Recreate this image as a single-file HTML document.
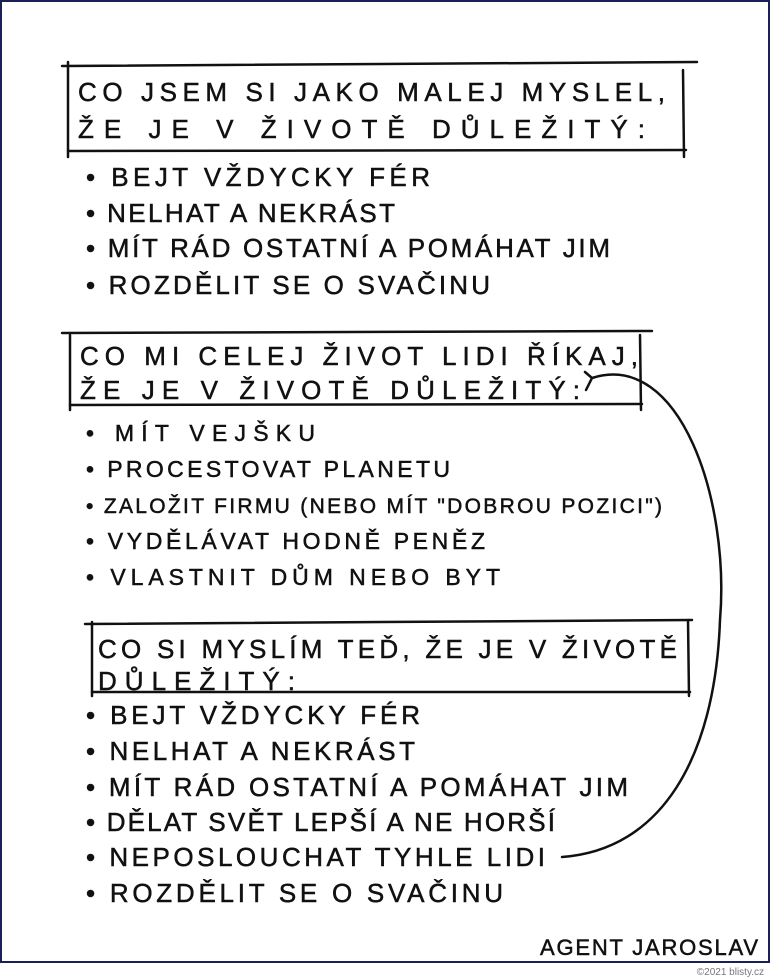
<!DOCTYPE html>
<html><head><meta charset="utf-8"><style>
html,body{margin:0;padding:0;background:#fff;}
svg{display:block}
text{font-family:"Liberation Sans",sans-serif;font-size:26px;fill:#111;stroke:#111;stroke-width:0.5}
</style></head><body>
<svg width="770" height="979" viewBox="0 0 770 979">
<rect x="1" y="1" width="768" height="961" fill="#fff" stroke="#1a1f55" stroke-width="2"/>
<g stroke="#111" stroke-width="2.5" fill="none" stroke-linecap="round">
<path d="M62 66 L697 62"/><path d="M68 62 L68 157"/><path d="M683 70 L684 157"/><path d="M68 151 L686 150"/>
<path d="M62 333 L652 331"/><path d="M70 335 L70 410"/><path d="M640 335 L641 410"/><path d="M70 405 L642 404"/>
<path d="M85 624 L692 620"/><path d="M92 622 L92 696"/><path d="M688 620 L689 696"/><path d="M92 692 L690 692"/>
<path d="M592 378 C680 350 730 500 720 620 C715 760 660 850 562 857"/>
<path d="M585 372 L592 378 L586 390"/>
</g>
<g lengthAdjust="spacing">
<text x="78" y="101" textLength="587">CO JSEM SI JAKO MALEJ MYSLEL,</text>
<text x="78" y="138" textLength="567">ŽE JE V ŽIVOTĚ DŮLEŽITÝ:</text>
<text x="86" y="186" textLength="344">• BEJT VŽDYCKY FÉR</text>
<text x="86" y="222" textLength="309">• NELHAT A NEKRÁST</text>
<text x="86" y="257" textLength="524">• MÍT RÁD OSTATNÍ A POMÁHAT JIM</text>
<text x="86" y="294" textLength="404">• ROZDĚLIT SE O SVAČINU</text>
<text x="80" y="365" textLength="558">CO MI CELEJ ŽIVOT LIDI ŘÍKAJ,</text>
<text x="80" y="399" textLength="500">ŽE JE V ŽIVOTĚ DŮLEŽITÝ:</text>
<text x="86" y="441" textLength="229" style="font-size:23px">• MÍT VEJŠKU</text>
<text x="86" y="477" textLength="364" style="font-size:23px">• PROCESTOVAT PLANETU</text>
<text x="86" y="513" textLength="576" style="font-size:21px">• ZALOŽIT FIRMU (NEBO MÍT "DOBROU POZICI")</text>
<text x="86" y="549" textLength="399" style="font-size:23px">• VYDĚLÁVAT HODNĚ PENĚZ</text>
<text x="86" y="585" textLength="414" style="font-size:23px">• VLASTNIT DŮM NEBO BYT</text>
<text x="98" y="658" textLength="579">CO SI MYSLÍM TEĎ, ŽE JE V ŽIVOTĚ</text>
<text x="98" y="690" textLength="197">DŮLEŽITÝ:</text>
<text x="86" y="724" textLength="334">• BEJT VŽDYCKY FÉR</text>
<text x="86" y="760" textLength="329">• NELHAT A NEKRÁST</text>
<text x="86" y="796" textLength="542">• MÍT RÁD OSTATNÍ A POMÁHAT JIM</text>
<text x="86" y="831" textLength="469">• DĚLAT SVĚT LEPŠÍ A NE HORŠÍ</text>
<text x="86" y="866" textLength="459">• NEPOSLOUCHAT TYHLE LIDI</text>
<text x="86" y="902" textLength="417">• ROZDĚLIT SE O SVAČINU</text>
<text x="540" y="955" textLength="218" style="font-size:22px">AGENT JAROSLAV</text>
</g>
<text x="764" y="975" text-anchor="end" style="font-size:10px;fill:#777;stroke:none">©2021 blisty.cz</text>
</svg>
</body></html>
